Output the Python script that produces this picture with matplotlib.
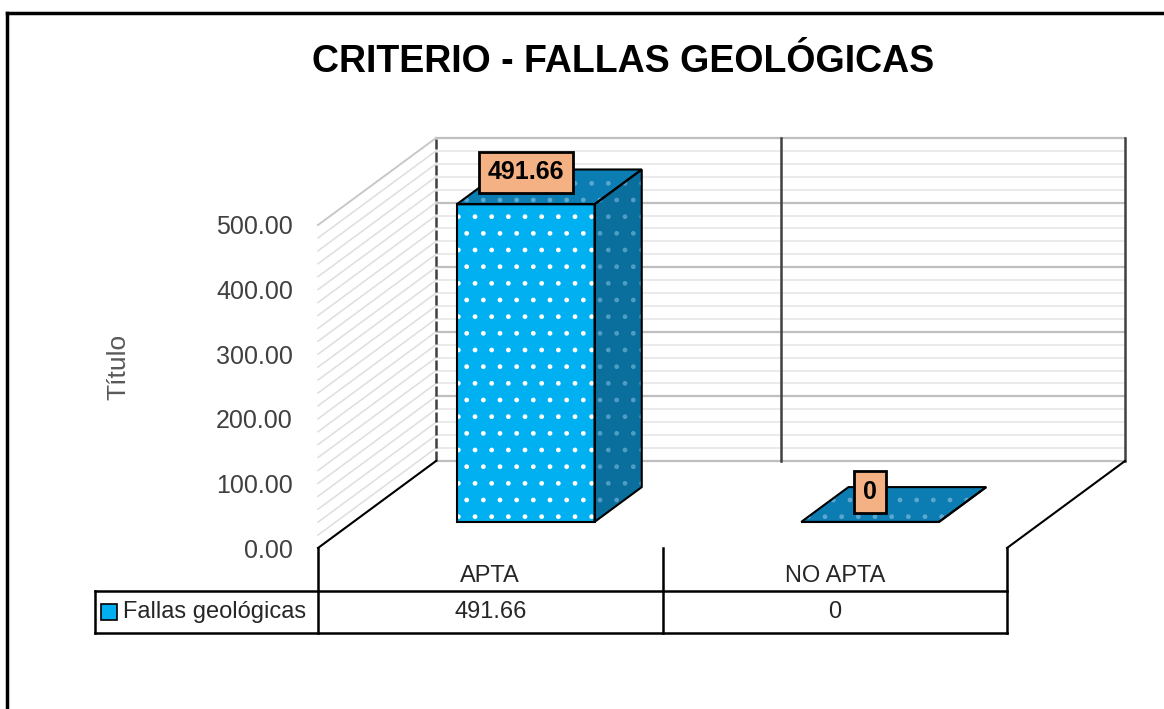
import numpy as np
import matplotlib
matplotlib.use("Agg")
import matplotlib.pyplot as plt
from matplotlib.patches import Polygon, Rectangle
from matplotlib.lines import Line2D
from matplotlib.transforms import blended_transform_factory

plt.rcParams['font.family'] = ['Liberation Sans', 'DejaVu Sans']
plt.rcParams['hatch.linewidth'] = 1.0

title = "CRITERIO - FALLAS GEOLÓGICAS"
categories = ["APTA", "NO APTA"]
values = [491.66, 0]
value_labels = ["491.66", "0"]
series_name = "Fallas geológicas"
y_ticks = [0, 100, 200, 300, 400, 500]

W, H = 1164, 709
fig = plt.figure(figsize=(W / 100, H / 100), dpi=100)

# front plane of the 3d box, in pixels
left, right, bottom, top = 318, 1007, 548, 225
ax = fig.add_axes([left / W, (H - bottom) / H, (right - left) / W, (bottom - top) / H])
ax.set_xlim(0, 2)
ax.set_ylim(0, 500)
for s in ax.spines.values():
    s.set_visible(False)
ax.patch.set_alpha(0)

# depth offset (oblique projection) in data units
px_x = (right - left) / 2.0
px_y = (bottom - top) / 500.0
DX = 118 / px_x
DY = 87 / px_y


def proj(x, v, d):
    return (x + DX * d, v + DY * d)


def seg(p, q, **kw):
    ax.add_line(Line2D([p[0], q[0]], [p[1], q[1]], clip_on=False, **kw))


# gridlines on back wall and left wall
for v in np.arange(0, 501, 20):
    major = v % 100 == 0
    seg(proj(0, v, 1), proj(2, v, 1), color='#bfbfbf' if major else '#e6e6e6',
        lw=1.6 if major else 1.2, zorder=1)
    seg(proj(0, v, 0), proj(0, v, 1), color='#c8c8c8' if v == 500 else '#dedede',
        lw=1.4 if v == 500 else 1.1, zorder=1)

# back wall verticals
seg(proj(0, 0, 1), proj(0, 500, 1), color='#404040', lw=1.8, ls=(0, (4, 1.2)), zorder=2)
for x in [1, 2]:
    seg(proj(x, 0, 1), proj(x, 500, 1), color='#404040', lw=1.8, zorder=2)

# floor side edges
seg(proj(0, 0, 0), proj(0, 0, 1), color='black', lw=1.5, zorder=2)
seg(proj(2, 0, 0), proj(2, 0, 1), color='black', lw=1.5, zorder=2)

# bars
front_c, side_c, top_c = '#00b0f0', '#0a6f9c', '#0b7db3'
for i, v in enumerate(values):
    x0, x1, d0, d1 = i + 0.3, i + 0.7, 0.3, 0.7
    faces = [
        ([proj(x1, 0, d0), proj(x1, 0, d1), proj(x1, v, d1), proj(x1, v, d0)], side_c, '#4f9cc4'),
        ([proj(x0, v, d0), proj(x1, v, d0), proj(x1, v, d1), proj(x0, v, d1)], top_c, '#5aa8d0'),
        ([proj(x0, 0, d0), proj(x1, 0, d0), proj(x1, v, d0), proj(x0, v, d0)], front_c, 'white'),
    ]
    for pts, fc, dc in faces:
        ax.add_patch(Polygon(pts, closed=True, fc=fc, ec=dc, lw=0, hatch='.',
                             clip_on=False, zorder=3))
        ax.add_patch(Polygon(pts, closed=True, fill=False, ec='black', lw=1.5,
                             clip_on=False, zorder=4))
    fx, fy_ = proj(i + 0.5, v, d0)
    ax.annotate(value_labels[i], (fx, fy_), xytext=(0, 32 if v > 0 else 30),
                textcoords='offset pixels', ha='center', va='center',
                fontsize=18, fontweight='bold', color='black', zorder=6,
                annotation_clip=False,
                bbox=dict(boxstyle='square,pad=0.35', fc='#f4b183', ec='black', lw=2))

# y axis
ax.set_xticks([])
ax.set_yticks(y_ticks)
ax.set_yticklabels([f"{t:.2f}" for t in y_ticks], fontsize=18, color='#404040')
ax.tick_params(axis='y', length=0, pad=18)
ax.set_ylabel("Título", fontsize=19, color='#595959')
ax.yaxis.set_label_coords((130 - left) / (right - left), (bottom - 367) / (bottom - top))

# data table
bt = blended_transform_factory(ax.transData, fig.transFigure)


def fy(p):
    return 1 - p / H


for x in [0, 1, 2]:
    fig.add_artist(Line2D([x, x], [fy(548), fy(633)], transform=bt, color='black', lw=1.8))
for yy in [591, 633]:
    fig.add_artist(Line2D([95 / W, right / W], [fy(yy), fy(yy)], transform=fig.transFigure,
                          color='black', lw=1.8))
fig.add_artist(Line2D([95 / W, 95 / W], [fy(591), fy(633)], transform=fig.transFigure,
                      color='black', lw=1.8))
for i, c in enumerate(categories):
    fig.text(i + 0.5, fy(576), c, transform=bt, ha='center', va='center',
             fontsize=17, color='#262626')
    fig.text(i + 0.5, fy(612), value_labels[i], transform=bt, ha='center', va='center',
             fontsize=17, color='#262626')
fig.add_artist(Rectangle((101 / W, fy(620)), 16 / W, 16 / H, transform=fig.transFigure,
                         fc=front_c, ec='black', lw=1.2))
fig.text(123 / W, fy(612), series_name, ha='left', va='center', fontsize=17, color='#262626')

# title
fig.text(623 / W, fy(62), title, ha='center', va='center', fontsize=27,
         fontweight='bold', color='black')

# outer chart frame
fig.add_artist(Line2D([7 / W, 1.0], [fy(13), fy(13)], transform=fig.transFigure,
                      color='black', lw=2.5))
fig.add_artist(Line2D([7 / W, 7 / W], [fy(13), 0], transform=fig.transFigure,
                      color='black', lw=2.5))

fig.savefig("out.png", dpi=100)
